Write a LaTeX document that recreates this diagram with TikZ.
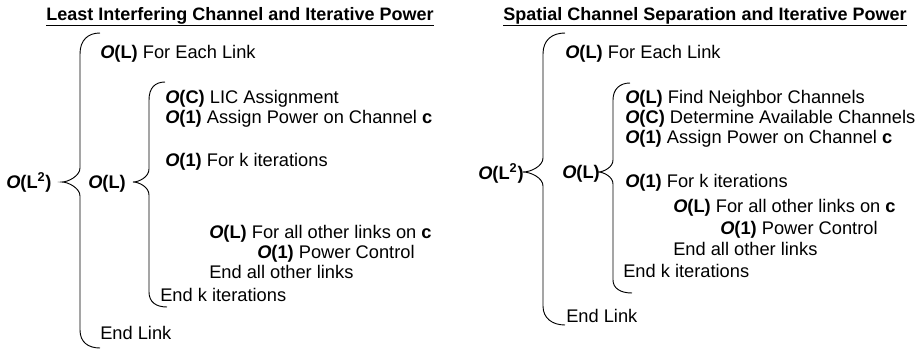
\documentclass[tikz,border=0pt]{standalone}
\usepackage{fontspec}
\setmainfont{Liberation Sans}
\newcommand{\bigO}[1]{\textbf{\textit{O}(#1)}}
\tikzset{
  step line/.style={anchor=base west, inner sep=0pt, font=\fontsize{13.7}{16}\selectfont},
  order/.style={anchor=base west, inner sep=0pt, font=\fontsize{13.7}{16}\selectfont},
  heading/.style={anchor=base, inner sep=0pt, font=\fontsize{13.5}{16}\selectfont\bfseries},
  brace line/.style={draw=black, line width=0.7pt}
}
\begin{document}
\begin{tikzpicture}[x=0.75pt, y=-0.75pt]
        \useasboundingbox (0,0) rectangle (921,350);
        % left algorithm: least interfering channel
        \node[heading] (lic-title) at (240,20) {\underline{Least Interfering Channel and Iterative Power}};
        \node[order] (lic-outer) at (6,188.5) {\bigO{L\textsuperscript{2}}};
        \node[order] (lic-inner) at (88,188.5) {\bigO{L}};
        \node[step line] (lic-each) at (100,58.5) {\bigO{L} For Each Link};
        \node[step line] (lic-assign) at (165,103.5) {\bigO{C} LIC Assignment};
        \node[step line] (lic-power) at (165,123.5) {\bigO{1} Assign Power on Channel \textbf{c}};
        \node[step line] (lic-iter) at (165,166.5) {\bigO{1} For k iterations};
        \node[step line] (lic-others) at (209,238.5) {\bigO{L} For all other links on \textbf{c}};
        \node[step line] (lic-control) at (257,258.5) {\bigO{1} Power Control};
        \node[step line] (lic-endothers) at (209,278.5) {End all other links};
        \node[step line] (lic-enditer) at (160,301.5) {End k iterations};
        \node[step line] (lic-endlink) at (100,339.5) {End Link};
        \draw[brace line] (100,33) .. controls (88,33) and (80,40) .. (80,54) -- (80,168) .. controls (80,176) and (68,182) .. (62,182) .. controls (68,182) and (80,188) .. (80,196) -- (80,330) .. controls (80,342) and (88,348) .. (100,348);
        \draw[brace line] (165,82) .. controls (155,82) and (149,88) .. (149,100) -- (149,169) .. controls (149,177) and (139,182) .. (133,182) .. controls (139,182) and (149,187) .. (149,195) -- (149,292) .. controls (149,302) and (156,307) .. (167,307);
        % right algorithm: spatial channel separation
        \node[heading] (scs-title) at (705,20) {\underline{Spatial Channel Separation and Iterative Power}};
        \node[order] (scs-outer) at (478,179.5) {\bigO{L\textsuperscript{2}}};
        \node[order] (scs-inner) at (562,178.5) {\bigO{L}};
        \node[step line] (scs-each) at (565,58.5) {\bigO{L} For Each Link};
        \node[step line] (scs-neighbor) at (625,103.5) {\bigO{L} Find Neighbor Channels};
        \node[step line] (scs-avail) at (625,123.5) {\bigO{C} Determine Available Channels};
        \node[step line] (scs-power) at (625,143.5) {\bigO{1} Assign Power on Channel \textbf{c}};
        \node[step line] (scs-iter) at (625,187.5) {\bigO{1} For k iterations};
        \node[step line] (scs-others) at (673,212.5) {\bigO{L} For all other links on \textbf{c}};
        \node[step line] (scs-control) at (720,234.5) {\bigO{1} Power Control};
        \node[step line] (scs-endothers) at (673,255.5) {End all other links};
        \node[step line] (scs-enditer) at (623,277.5) {End k iterations};
        \node[step line] (scs-endlink) at (566,322.5) {End Link};
        \draw[brace line] (565,33) .. controls (552,33) and (543,40) .. (543,54) -- (543,158) .. controls (543,166) and (531,172) .. (523,172) .. controls (531,172) and (543,178) .. (543,186) -- (543,306) .. controls (543,318) and (552,325) .. (565,325);
        \draw[brace line] (630,83) .. controls (620,83) and (613,89) .. (613,100) -- (613,160) .. controls (613,167) and (604,172) .. (598,172) .. controls (604,172) and (613,177) .. (613,184) -- (613,280) .. controls (613,288) and (620,293) .. (632,293);
\end{tikzpicture}
\end{document}
